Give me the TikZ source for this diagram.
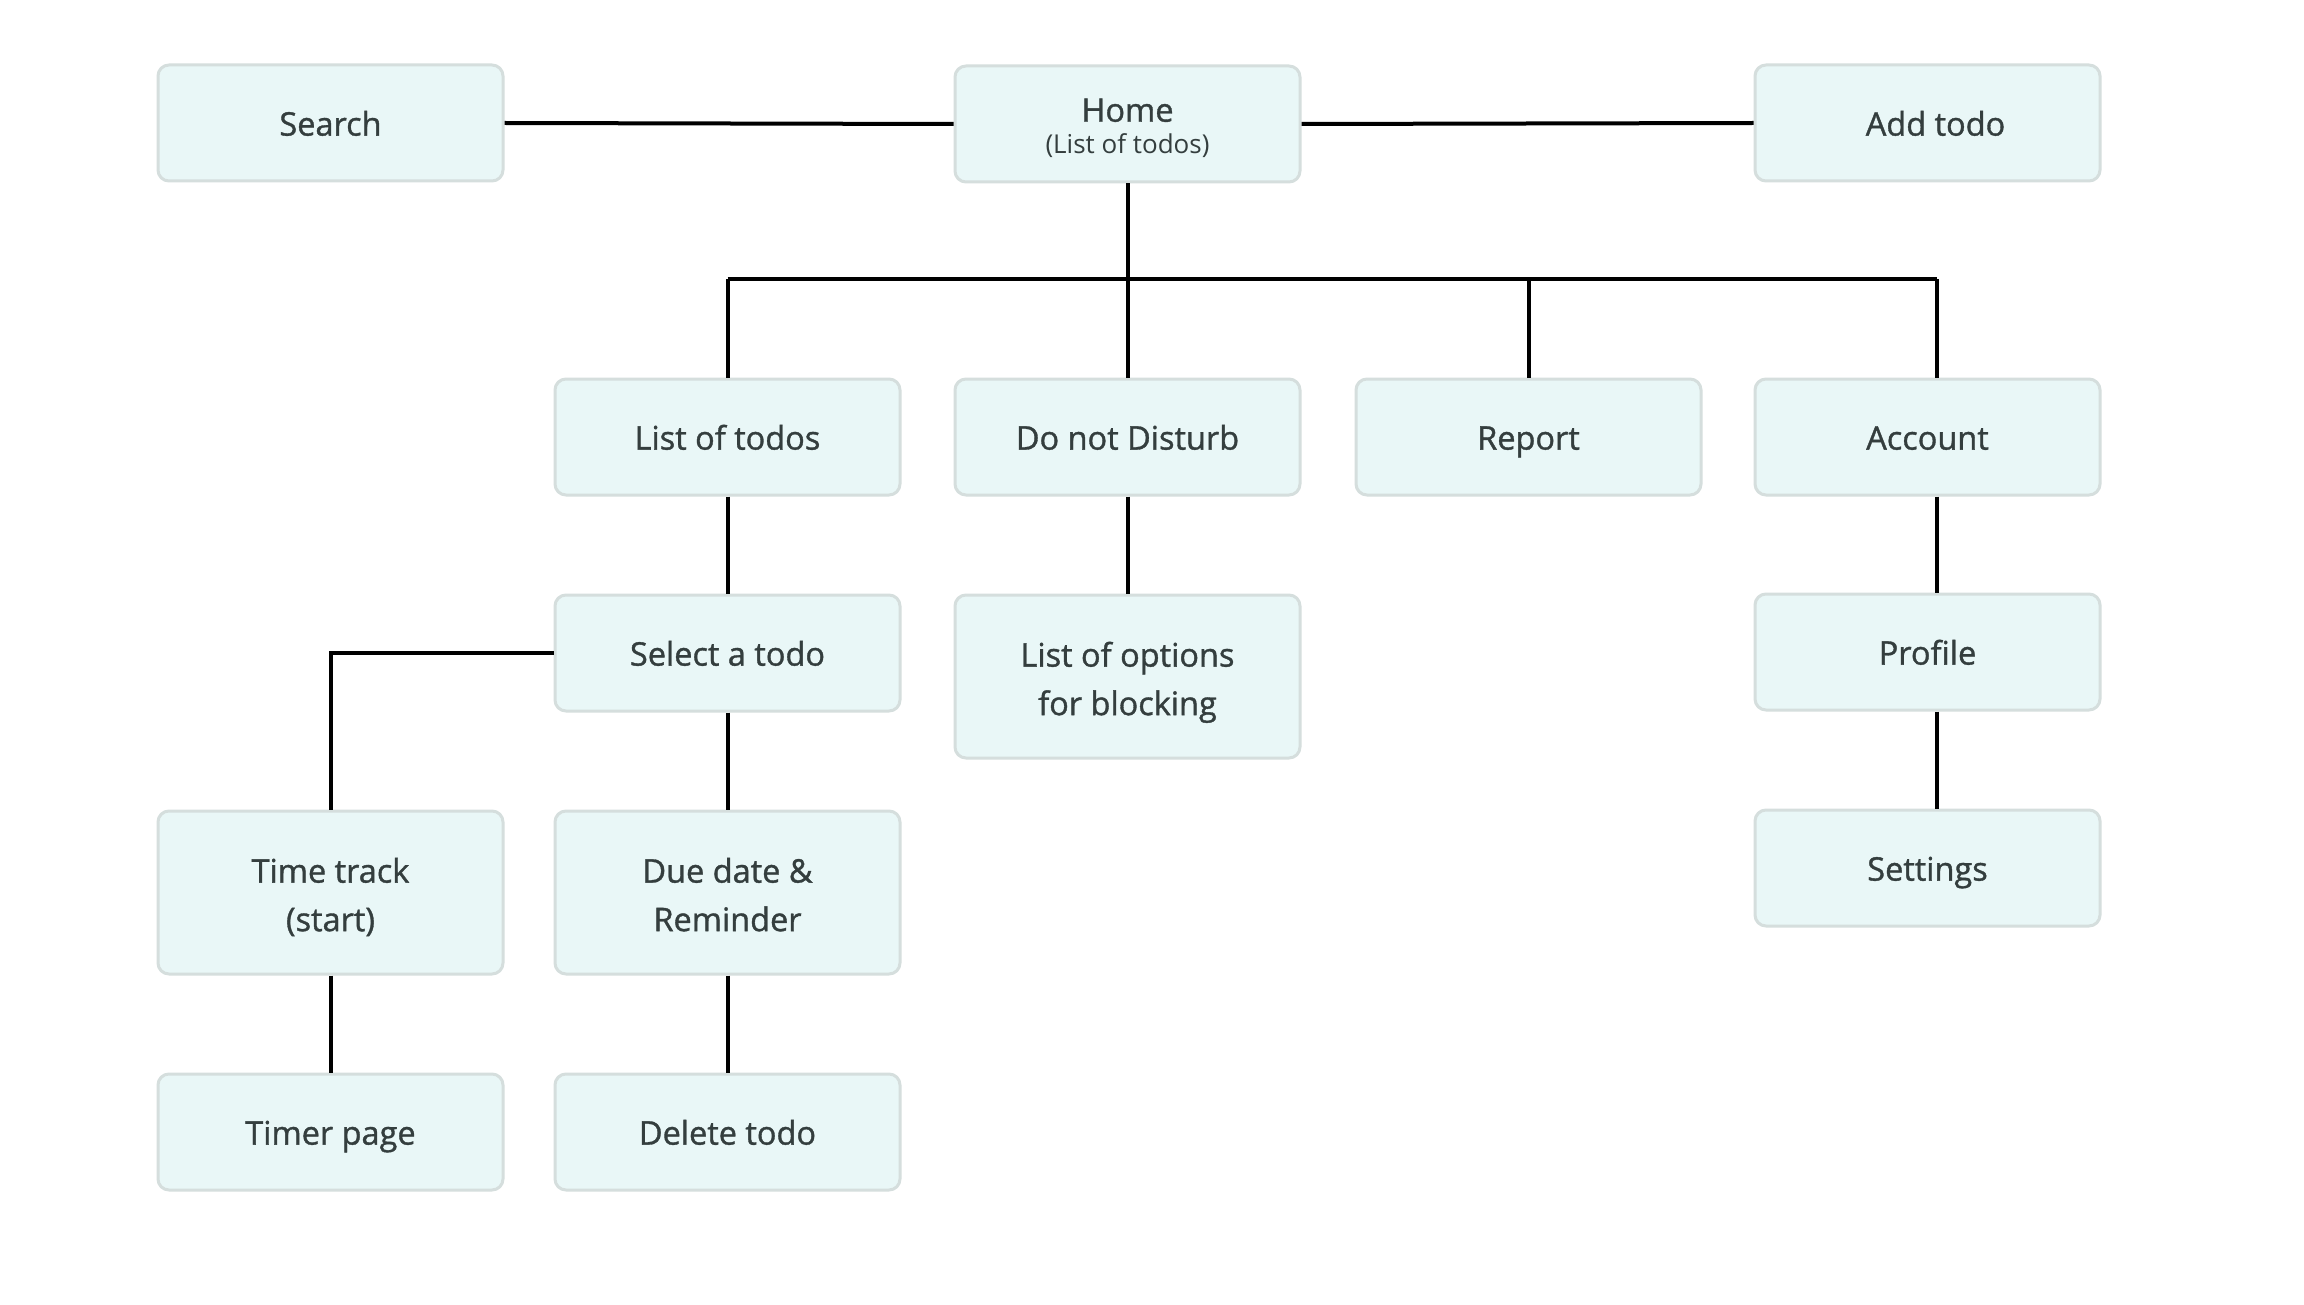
\documentclass[tikz,border=0pt]{standalone}
\usepackage{fontspec}
\setmainfont{Open Sans}
\newfontfamily\boxfont{Open Sans}[FakeBold=1.1]
\newfontfamily\subfont{Open Sans}
\definecolor{boxfill}{HTML}{E9F7F7}
\definecolor{boxline}{HTML}{D5DEDD}
\definecolor{txt}{HTML}{343E3E}
\newcommand\tallbeg{\rule{0pt}{38pt}}
\newcommand\tallend{\rule[-9.3pt]{0pt}{0pt}}
\newcommand\homebeg{\rule{0pt}{40pt}}
\newcommand\homeend{\rule[-13.1pt]{0pt}{0pt}}
\begin{document}
\begin{tikzpicture}[x=1pt,y=-1pt,
  boxbase/.style={draw=boxline,line width=3pt,fill=boxfill,rounded corners=11pt,
    minimum width=345pt,minimum height=116pt,align=center,text=txt,
    font=\boxfont\fontsize{32.5}{48.5}\selectfont,inner sep=0pt},
  box/.style={boxbase,
    execute at begin node={\rule{0pt}{36.6pt}},
    execute at end node={\rule[-11.4pt]{0pt}{0pt}}},
  tall/.style={boxbase,minimum height=163pt},
  homebox/.style={boxbase},
  conn/.style={line width=4pt,black}]
\useasboundingbox (0,0) rectangle (2304,1305);
\fill[white] (0,0) rectangle (2304,1305);
\node[box] (search) at (330.5,123) {Search};
\node[homebox] (home) at (1127.5,124) {\homebeg Home\\[-17pt]{\subfont\fontsize{26}{30}\selectfont (List of todos)}\homeend};
\node[box] (add) at (1927.5,123) {\hspace*{16pt}Add todo};
\node[box] (list) at (727.5,437) {List of todos};
\node[box] (dnd) at (1127.5,437) {Do not Disturb};
\node[box] (report) at (1528.5,437) {Report};
\node[box] (account) at (1927.5,437) {Account};
\node[box] (select) at (727.5,653) {Select a todo};
\node[tall] (options) at (1127.5,676.5) {\tallbeg List of options\\for blocking\tallend};
\node[box] (profile) at (1927.5,652) {Profile};
\node[tall] (time) at (330.5,892.5) {\tallbeg Time track\\(start)\tallend};
\node[tall] (due) at (727.5,892.5) {\tallbeg Due date \&\\Reminder\tallend};
\node[box] (settings) at (1927.5,868) {Settings};
\node[box] (timer) at (330.5,1132) {Timer page};
\node[box] (delete) at (727.5,1132) {Delete todo};
\coordinate (busL) at (727.5,279);
\coordinate (busR) at (1937,279);
\draw[conn] (search.east) -- (home.west);
\draw[conn] (home.east) -- (add.west);
\draw[conn] (home.south) -- (home.south |- busL);
\draw[conn] (busL) -- (busR);
\draw[conn] (list.north) -- (busL);
\draw[conn] (dnd.north) -- (dnd.north |- busL);
\draw[conn] (report.north) -- (report.north |- busL);
\draw[conn] ([xshift=9.5pt]account.north) -- (busR);
\draw[conn] (list.south) -- (select.north);
\draw[conn] (dnd.south) -- (options.north);
\draw[conn] ([xshift=9.5pt]account.south) -- ([xshift=9.5pt]profile.north);
\draw[conn] ([xshift=9.5pt]profile.south) -- ([xshift=9.5pt]settings.north);
\draw[conn] (select.west) -| (time.north);
\draw[conn] (select.south) -- (due.north);
\draw[conn] (time.south) -- (timer.north);
\draw[conn] (due.south) -- (delete.north);
\end{tikzpicture}
\end{document}
